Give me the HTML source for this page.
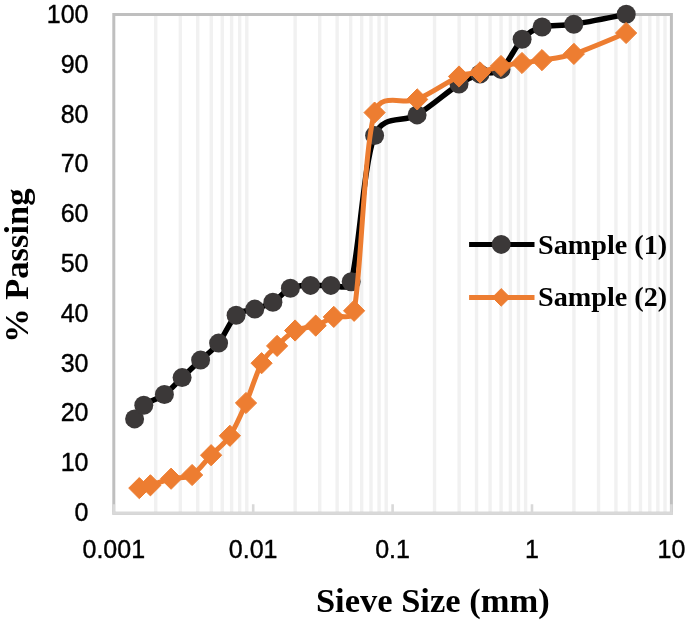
<!DOCTYPE html><html><head><meta charset="utf-8"><style>html,body{margin:0;padding:0;background:#fff;overflow:hidden}svg{display:block;will-change:transform;filter:blur(0.35px)}</style></head><body>
<svg width="685" height="622" viewBox="0 0 685 622">
<path d="M155.76,14.50V513.20M180.31,14.50V513.20M197.73,14.50V513.20M211.24,14.50V513.20M222.27,14.50V513.20M231.61,14.50V513.20M239.69,14.50V513.20M246.82,14.50V513.20M295.16,14.50V513.20M319.71,14.50V513.20M337.13,14.50V513.20M350.64,14.50V513.20M361.67,14.50V513.20M371.01,14.50V513.20M379.09,14.50V513.20M386.22,14.50V513.20M434.56,14.50V513.20M459.11,14.50V513.20M476.53,14.50V513.20M490.04,14.50V513.20M501.07,14.50V513.20M510.41,14.50V513.20M518.49,14.50V513.20M525.62,14.50V513.20M573.96,14.50V513.20M598.51,14.50V513.20M615.93,14.50V513.20M629.44,14.50V513.20M640.47,14.50V513.20M649.81,14.50V513.20M657.89,14.50V513.20M665.02,14.50V513.20" stroke="#f1f1f1" stroke-width="3.4" fill="none"/>
<rect x="113.80" y="14.50" width="557.60" height="498.70" fill="none" stroke="#bfbfbf" stroke-width="3"/>
<path d="M112.30,513.20H672.90M113.80,504.20V513.20M253.20,504.20V513.20M392.60,504.20V513.20M532.00,504.20V513.20M671.40,504.20V513.20" stroke="#d9d9d9" stroke-width="2.6" fill="none"/>
<g font-family="'Liberation Sans', sans-serif" font-size="25" fill="#000" stroke="#000" stroke-width="0.4"><text x="88.5" y="23.00" text-anchor="end">100</text><text x="88.5" y="72.80" text-anchor="end">90</text><text x="88.5" y="122.60" text-anchor="end">80</text><text x="88.5" y="172.40" text-anchor="end">70</text><text x="88.5" y="222.20" text-anchor="end">60</text><text x="88.5" y="272.00" text-anchor="end">50</text><text x="88.5" y="321.80" text-anchor="end">40</text><text x="88.5" y="371.60" text-anchor="end">30</text><text x="88.5" y="421.40" text-anchor="end">20</text><text x="88.5" y="471.20" text-anchor="end">10</text><text x="88.5" y="521.00" text-anchor="end">0</text></g>
<g font-family="'Liberation Sans', sans-serif" font-size="25" fill="#000" stroke="#000" stroke-width="0.4"><text x="113.80" y="558" text-anchor="middle">0.001</text><text x="253.20" y="558" text-anchor="middle">0.01</text><text x="392.60" y="558" text-anchor="middle">0.1</text><text x="532.00" y="558" text-anchor="middle">1</text><text x="671.40" y="558" text-anchor="middle">10</text></g>
<text x="432.8" y="612" text-anchor="middle" font-family="'Liberation Serif', serif" font-weight="bold" font-size="34.5" fill="#000">Sieve Size (mm)</text>
<text transform="translate(28.3,265.7) rotate(-90)" text-anchor="middle" font-family="'Liberation Serif', serif" font-weight="bold" font-size="34.5" fill="#000">% Passing</text>
<path d="M134.60,418.90 C136.13,416.63 138.83,409.37 143.80,405.30 C148.77,401.23 158.02,399.12 164.40,394.50 C170.78,389.88 176.07,383.33 182.10,377.60 C188.13,371.87 194.52,365.85 200.60,360.10 C206.68,354.35 212.68,350.58 218.60,343.10 C224.52,335.62 230.07,320.87 236.10,315.20 C242.13,309.53 248.67,311.27 254.80,309.10 C260.93,306.93 266.97,305.68 272.90,302.20 C278.83,298.72 284.13,291.00 290.40,288.20 C296.67,285.40 303.77,285.87 310.50,285.40 C317.23,284.93 324.02,286.02 330.80,285.40 C337.58,284.78 348.29,291.65 351.20,281.70 C358.50,256.72 363.62,163.30 374.60,135.50 C383.28,113.54 403.03,123.47 417.10,114.90 C431.17,106.33 448.52,90.92 459.00,84.10 C468.77,77.75 473.00,76.45 480.00,74.00 C487.00,71.55 493.98,75.18 501.00,69.40 C508.02,63.62 515.25,46.37 522.10,39.30 C528.95,32.23 533.48,29.50 542.10,27.00 C550.72,24.50 559.78,26.42 573.80,24.30 C587.82,22.18 617.47,15.97 626.20,14.30" stroke="#000" stroke-width="5.5" fill="none" stroke-linejoin="round"/>
<g fill="#3b3838"><circle cx="134.60" cy="418.90" r="9.5"/><circle cx="143.80" cy="405.30" r="9.5"/><circle cx="164.40" cy="394.50" r="9.5"/><circle cx="182.10" cy="377.60" r="9.5"/><circle cx="200.60" cy="360.10" r="9.5"/><circle cx="218.60" cy="343.10" r="9.5"/><circle cx="236.10" cy="315.20" r="9.5"/><circle cx="254.80" cy="309.10" r="9.5"/><circle cx="272.90" cy="302.20" r="9.5"/><circle cx="290.40" cy="288.20" r="9.5"/><circle cx="310.50" cy="285.40" r="9.5"/><circle cx="330.80" cy="285.40" r="9.5"/><circle cx="351.20" cy="281.70" r="9.5"/><circle cx="374.60" cy="135.50" r="9.5"/><circle cx="417.10" cy="114.90" r="9.5"/><circle cx="459.00" cy="84.10" r="9.5"/><circle cx="480.00" cy="74.00" r="9.5"/><circle cx="501.00" cy="69.40" r="9.5"/><circle cx="522.10" cy="39.30" r="9.5"/><circle cx="542.10" cy="27.00" r="9.5"/><circle cx="573.80" cy="24.30" r="9.5"/><circle cx="626.20" cy="14.30" r="9.5"/></g>
<path d="M139.30,488.10 C141.15,487.63 145.10,486.87 150.40,485.30 C155.70,483.73 164.15,480.42 171.10,478.70 C178.05,476.98 185.43,478.92 192.10,475.00 C198.77,471.08 204.80,461.73 211.10,455.20 C217.40,448.67 224.08,444.50 229.90,435.80 C235.72,427.10 240.72,415.10 246.00,403.00 C251.28,390.90 256.42,372.72 261.60,363.20 C266.78,353.68 271.52,351.35 277.10,345.90 C282.68,340.45 288.67,333.88 295.10,330.50 C301.53,327.12 309.25,327.87 315.70,325.60 C322.15,323.33 327.40,319.37 333.80,316.90 C340.20,314.43 352.02,321.19 354.10,310.80 C360.90,276.75 364.08,147.83 374.60,112.60 C380.98,91.23 403.13,105.42 417.20,99.40 C431.27,93.38 448.53,81.00 459.00,76.50 C468.83,72.27 473.00,74.15 480.00,72.40 C487.00,70.65 494.00,67.57 501.00,66.00 C508.00,64.43 515.17,63.98 522.00,63.00 C528.83,62.02 533.35,61.62 542.00,60.10 C550.65,58.58 559.88,58.42 573.90,53.90 C587.92,49.38 617.40,36.48 626.10,33.00" stroke="#ed7d31" stroke-width="5" fill="none" stroke-linejoin="round"/>
<g fill="#ed7d31" stroke="#ed7d31" stroke-width="1" stroke-linejoin="round"><path d="M139.30,477.50l10.60,10.60l-10.60,10.60l-10.60,-10.60z"/><path d="M150.40,474.70l10.60,10.60l-10.60,10.60l-10.60,-10.60z"/><path d="M171.10,468.10l10.60,10.60l-10.60,10.60l-10.60,-10.60z"/><path d="M192.10,464.40l10.60,10.60l-10.60,10.60l-10.60,-10.60z"/><path d="M211.10,444.60l10.60,10.60l-10.60,10.60l-10.60,-10.60z"/><path d="M229.90,425.20l10.60,10.60l-10.60,10.60l-10.60,-10.60z"/><path d="M246.00,392.40l10.60,10.60l-10.60,10.60l-10.60,-10.60z"/><path d="M261.60,352.60l10.60,10.60l-10.60,10.60l-10.60,-10.60z"/><path d="M277.10,335.30l10.60,10.60l-10.60,10.60l-10.60,-10.60z"/><path d="M295.10,319.90l10.60,10.60l-10.60,10.60l-10.60,-10.60z"/><path d="M315.70,315.00l10.60,10.60l-10.60,10.60l-10.60,-10.60z"/><path d="M333.80,306.30l10.60,10.60l-10.60,10.60l-10.60,-10.60z"/><path d="M354.10,300.20l10.60,10.60l-10.60,10.60l-10.60,-10.60z"/><path d="M374.60,102.00l10.60,10.60l-10.60,10.60l-10.60,-10.60z"/><path d="M417.20,88.80l10.60,10.60l-10.60,10.60l-10.60,-10.60z"/><path d="M459.00,65.90l10.60,10.60l-10.60,10.60l-10.60,-10.60z"/><path d="M480.00,61.80l10.60,10.60l-10.60,10.60l-10.60,-10.60z"/><path d="M501.00,55.40l10.60,10.60l-10.60,10.60l-10.60,-10.60z"/><path d="M522.00,52.40l10.60,10.60l-10.60,10.60l-10.60,-10.60z"/><path d="M542.00,49.50l10.60,10.60l-10.60,10.60l-10.60,-10.60z"/><path d="M573.90,43.30l10.60,10.60l-10.60,10.60l-10.60,-10.60z"/><path d="M626.10,22.40l10.60,10.60l-10.60,10.60l-10.60,-10.60z"/></g>
<path d="M469.1,244.4H534.5" stroke="#000" stroke-width="5"/>
<circle cx="501.2" cy="244.4" r="9.5" fill="#3b3838"/>
<path d="M469.1,297.5H534.5" stroke="#ed7d31" stroke-width="5"/>
<path d="M501.2,288.60l8.80,8.80l-8.80,8.80l-8.80,-8.80z" fill="#ed7d31" stroke="#ed7d31" stroke-width="1" stroke-linejoin="round"/>
<g font-family="'Liberation Serif', serif" font-weight="bold" font-size="28.2" fill="#000"><text x="538.0" y="253.5">Sample (1)</text><text x="538.0" y="305.5">Sample (2)</text></g>
</svg></body></html>
